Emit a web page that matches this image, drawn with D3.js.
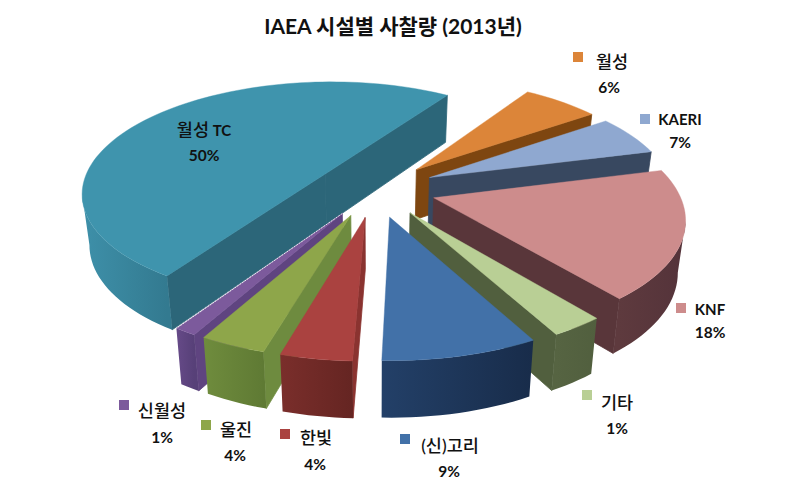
<!DOCTYPE html>
<html lang="ko">
<head>
<meta charset="utf-8">
<style>
html,body{margin:0;padding:0;background:#fff}
svg{display:block}
text{font-family:Lato,"Noto Sans CJK KR",sans-serif;fill:#111}
</style>
<script src="https://cdn.jsdelivr.net/npm/d3@7"></script>
</head>
<body>
<svg id="chart" width="786" height="481"></svg>
<script>
// ---------- data ----------
const titleText = "IAEA 시설별 사찰량 (2013년)";
const categories = ["월성 TC","월성","KAERI","KNF","기타","(신)고리","한빛","울진","신월성"];
const values = [50,6,7,18,1,9,4,4,1];

// ---------- style ----------
const topColors  = ["#3f94ad","#dc8539","#8fa8d0","#cd8c8c","#b9cf95","#4271a8","#aa4240","#8ea64a","#7c5a9c"];
const cutColors  = ["#2c6679","#7e4610","#384860","#59363a","#515f3e","#1c3557","#8a3330","#6e8b3f","#5f4480"];
const wallLight  = ["#3e90a9","#8a4f18","#3f5068","#5e3a3e","#566442","#234068","#7a2e2b","#6f8c3d","#664a88"];
const wallDark   = ["#337a90","#7e4610","#384860","#54333a","#515f3e","#182c4a","#652522","#5f7a34","#574078"];

// ---------- projection calibration ----------
const cx = 375, cy = 189, rx = 244, ry = 111, persp = 0.157, explode = 0.25;
const rimStep = 2;
const rad = Math.PI / 180;
const startDeg = 213.4;
// correction between the data angle and the angle seen in the tilted drawing
const seenAngle = d3.scaleLinear()
  .domain([213.4, 393.4, 415, 440.2, 505, 508.6, 541, 555.4, 569.8, 573.4])
  .range ([213.4, 393.4, 415, 435.5, 501, 511.5, 542, 556, 569, 573.4]);

const dir = a => [Math.sin(a * rad), -Math.cos(a * rad)];
// true perspective: a point of the disc plane, U to the right and V toward the viewer
function project(U, V) {
  const s = 1 / (1 - persp * V);
  return { x: cx + rx * U * s, y: cy + ry * V * s, s };
}
const depthAt = s => 47 + 27 * (s - 0.867);
const baseX = x => cx + (x - cx) * 0.975;
const lower = p => ({ x: baseX(p.x), y: p.y + depthAt(p.s), s: p.s });
const poly = pts => d3.line().x(p => p.x).y(p => p.y)(pts) + "Z";

const svg = d3.select("#chart");
const defs = svg.append("defs");

const arcs = d3.pie().sort(null)
  .startAngle(startDeg * rad).endAngle((startDeg + 360) * rad)(values)
  .map(d => {
    const a0 = seenAngle(d.startAngle / rad), a1 = seenAngle(d.endAngle / rad);
    const mid = (a0 + a1) / 2, [mu, mv] = dir(mid);
    return { i: d.index, a0, a1, mid, mv, ou: explode * mu, ov: explode * mv };
  })
  .sort((a, b) => a.mv - b.mv);

const layer = svg.append("g").attr("class", "pie");

arcs.forEach(d => {
  const g = layer.append("g");
  const n = Math.max(2, Math.ceil((d.a1 - d.a0) / rimStep));
  const rim = d3.range(n + 1).map(k => {
    const [u, v] = dir(d.a0 + (d.a1 - d.a0) * k / n);
    return project(d.ou + u, d.ov + v);
  });
  const A = project(d.ou, d.ov), first = rim[0], last = rim[rim.length - 1];

  // radial cut faces (only those that look toward the viewer)
  [[A, first], [last, A]].forEach(([p, q]) => {
    if (q.x - p.x < 0) {
      g.append("path")
        .attr("d", poly([p, q, lower(q), lower(p)]))
        .attr("fill", cutColors[d.i]).attr("stroke", cutColors[d.i]).attr("stroke-width", 0.8);
    }
  });

  // outer curved wall
  const seen = [];
  rim.forEach((p, k) => { if (k && p.x - rim[k - 1].x < 0) { if (!seen.length) seen.push(rim[k - 1]); seen.push(p); } });
  if (seen.length > 1) {
    const id = "wall" + d.i;
    const gr = defs.append("linearGradient").attr("id", id)
      .attr("gradientUnits", "userSpaceOnUse")
      .attr("x1", d3.min(seen, p => p.x)).attr("x2", d3.max(seen, p => p.x))
      .attr("y1", 0).attr("y2", 0);
    gr.append("stop").attr("offset", 0).attr("stop-color", wallLight[d.i]);
    gr.append("stop").attr("offset", 1).attr("stop-color", wallDark[d.i]);
    g.append("path")
      .attr("d", poly(seen.concat(seen.map(lower).reverse())))
      .attr("fill", `url(#${id})`);
  }

  // top surface
  g.append("path")
    .attr("d", poly([A].concat(rim)))
    .attr("fill", topColors[d.i]).attr("stroke", topColors[d.i]).attr("stroke-width", 0.4);

  // fine white edge along the last slice
  if (d.i === categories.length - 1) {
    g.append("line")
      .attr("x1", A.x).attr("y1", A.y).attr("x2", last.x).attr("y2", last.y)
      .attr("stroke", "#fff").attr("stroke-width", 0.8).attr("stroke-dasharray", "2 1");
  }
});

// ---------- title ----------
svg.append("text").attr("x", 393).attr("y", 34).attr("text-anchor", "middle")
  .attr("font-size", 21).attr("font-weight", 700).text(titleText);

// ---------- labels ----------
const labelLayout = [
  { nx: 204, ny: 136, px: 204, py: 161 },
  { sq: [573, 52], nx: 612, ny: 68, px: 609, py: 93 },
  { sq: [640, 114], nx: 680, ny: 125, px: 680, py: 148 },
  { sq: [676, 303], nx: 710, ny: 315, px: 710, py: 338 },
  { sq: [582, 390], nx: 617, ny: 409, px: 617, py: 434 },
  { sq: [400, 434], nx: 450, ny: 452, px: 449, py: 477 },
  { sq: [280, 429], nx: 316, ny: 444, px: 315, py: 470 },
  { sq: [201, 420], nx: 236, ny: 436, px: 235, py: 461 },
  { sq: [119, 400], nx: 162, ny: 417, px: 162, py: 443 }
];
const labels = svg.append("g").attr("class", "labels");
categories.forEach((name, i) => {
  const L = labelLayout[i];
  if (L.sq) labels.append("rect").attr("x", L.sq[0]).attr("y", L.sq[1])
    .attr("width", 10).attr("height", 10).attr("fill", topColors[i]);
  const t = labels.append("text").attr("x", L.nx).attr("y", L.ny).attr("text-anchor", "middle");
  name.split(/( ?[A-Z]+)/).filter(Boolean).forEach(part => {
    const latin = /[A-Z]/.test(part);
    t.append("tspan").attr("font-size", latin ? 15 : 17.5)
      .attr("font-weight", latin ? 700 : 500).text(part);
  });
  labels.append("text").attr("x", L.px).attr("y", L.py).attr("text-anchor", "middle")
    .attr("font-size", 15.5).attr("font-weight", 700).text(values[i] + "%");
});
</script>
</body>
</html>
